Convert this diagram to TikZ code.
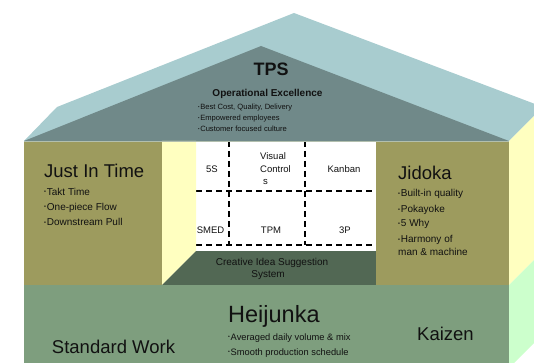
\documentclass[tikz,border=0pt]{standalone}
\usepackage{fontspec}
\setmainfont{Liberation Sans}
\usepackage{graphicx}
\definecolor{roofL}{HTML}{A8CCCF}
\definecolor{roofD}{HTML}{708989}
\definecolor{olivep}{HTML}{9D9B5E}
\definecolor{yelside}{HTML}{FFFFC0}
\definecolor{dgreen}{HTML}{526854}
\definecolor{bgreen}{HTML}{7E9E7E}
\definecolor{lgreen}{HTML}{CCFFCC}
\definecolor{seam}{HTML}{B2BFAE}
\definecolor{ink}{HTML}{111111}
\newcommand\bul{\raisebox{0.28ex}{\scalebox{0.55}{\textbullet}}\hspace{0.08em}}
\tikzset{
  txt/.style={inner sep=0pt, anchor=base west, text=ink},
  ctxt/.style={inner sep=0pt, anchor=base, text=ink},
  fbig/.style={font=\fontsize{18.5}{20}\selectfont},
  fhei/.style={font=\fontsize{23.5}{25}\selectfont},
  ftps/.style={font=\fontsize{18}{20}\selectfont\bfseries},
  fop/.style={font=\fontsize{10}{12}\selectfont\bfseries},
  fsmall/.style={font=\fontsize{7.6}{9}\selectfont},
  fmid/.style={font=\fontsize{10}{12}\selectfont},
  fgrid/.style={font=\fontsize{9.5}{11}\selectfont},
  fhb/.style={font=\fontsize{9.3}{11}\selectfont},
  griddash/.style={draw=black, line width=1.6pt, dash pattern=on 6pt off 4pt},
}
\begin{document}
\begin{tikzpicture}[x=1pt,y=-1pt]
\useasboundingbox (0,0) rectangle (534,363);
\clip (0,0) rectangle (534,363);
% roof
\fill[roofL] (24,141) -- (57,107) -- (294,13) -- (543,107) -- (509,141) -- cycle;
\fill[roofD] (24,141) -- (261,46) -- (509,141) -- cycle;
% left pillar
\fill[olivep] (24,141) rectangle (162,285);
% grid in the middle
\draw[griddash] (229,141) -- (229,245);
\draw[griddash] (305,141) -- (305,245);
\draw[griddash] (196,191) -- (372,191);
\draw[griddash] (196,245) -- (372,245);
\node[ctxt,fgrid] (g5s) at (212,172) {5S};
\node[txt,fgrid] (gvis1) at (260,160) {Visual};
\node[txt,fgrid] (gvis2) at (260,172.5) {Control};
\node[txt,fgrid] (gvis3) at (263,184.3) {s};
\node[ctxt,fgrid] (gkan) at (344,172) {Kanban};
\node[ctxt,fgrid] (gsmed) at (210.5,233.3) {SMED};
\node[ctxt,fgrid] (gtpm) at (271,233.3) {TPM};
\node[ctxt,fgrid] (g3p) at (345,233.3) {3P};
% left pillar side and floor strip
\fill[yelside] (162,141) -- (196,141) -- (196,251) -- (162,285) -- cycle;
\fill[dgreen] (196,251) -- (376,251) -- (376,285) -- (162,285) -- cycle;
\node[ctxt,fmid] (cis1) at (272,265) {Creative Idea Suggestion};
\node[ctxt,fmid] (cis2) at (268,277.3) {System};
% right pillar
\fill[olivep] (376,141) rectangle (509,285);
\fill[yelside] (509,141) -- (543,107) -- (543,251) -- (509,285) -- cycle;
% seam under the roof
\draw[seam, line width=1pt] (24,141.5) -- (509,141.5);
% base
\fill[bgreen] (24,285) rectangle (509,368);
\fill[lgreen] (509,285) -- (543,251) -- (543,334) -- (509,368) -- cycle;
% roof texts
\node[ctxt,ftps] (tps) at (271,76) {TPS};
\node[ctxt,fop] (opex) at (267.5,97) {Operational Excellence};
\node[txt,fsmall] (op1) at (198,109.5) {\bul Best Cost, Quality, Delivery};
\node[txt,fsmall] (op2) at (198,120.5) {\bul Empowered employees};
\node[txt,fsmall] (op3) at (198,131.5) {\bul Customer focused culture};
% just in time
\node[txt,fbig] (jit) at (44,178) {Just In Time};
\node[txt,fmid] (jit1) at (44,195) {\bul Takt Time};
\node[txt,fmid] (jit2) at (44,210) {\bul One-piece Flow};
\node[txt,fmid] (jit3) at (44,225.5) {\bul Downstream Pull};
% jidoka
\node[txt,fbig] (jid) at (398,179.3) {Jidoka};
\node[txt,fmid] (jid1) at (398,196.5) {\bul Built-in quality};
\node[txt,fmid] (jid2) at (398,212.5) {\bul Pokayoke};
\node[txt,fmid] (jid3) at (398,226.5) {\bul 5 Why};
\node[txt,fmid] (jid4) at (398,242.5) {\bul Harmony of};
\node[txt,fmid] (jid5) at (398,255.3) {man \& machine};
% base texts
\node[txt,fhei] (hei) at (228,322.7) {Heijunka};
\node[txt,fhb] (hei1) at (228,340) {\bul Averaged daily volume \& mix};
\node[txt,fhb] (hei2) at (228,355) {\bul Smooth production schedule};
\node[ctxt,fbig] (sw) at (113.5,353.3) {Standard Work};
\node[ctxt,fbig] (kai) at (445.5,340) {Kaizen};
\end{tikzpicture}
\end{document}
